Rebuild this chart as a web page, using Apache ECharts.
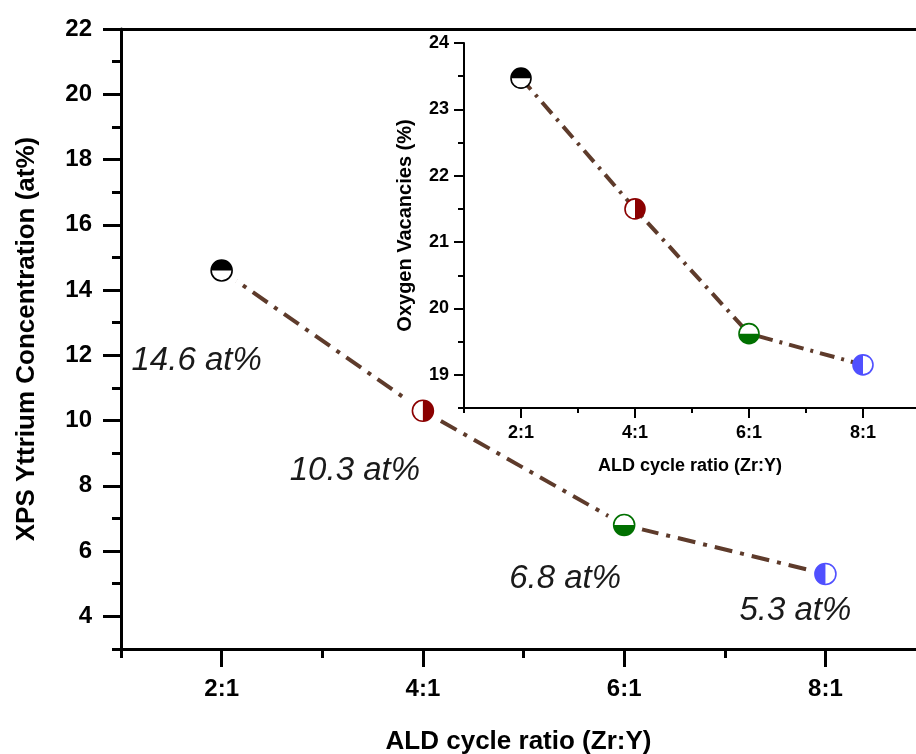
<!DOCTYPE html>
<html>
<head>
<meta charset="utf-8">
<title>XPS Yttrium Concentration vs ALD cycle ratio</title>
<script src="https://cdn.jsdelivr.net/npm/echarts@6/dist/echarts.min.js"></script>
<style>
  html, body { margin: 0; padding: 0; background: #ffffff; }
  #chart { width: 916px; height: 754px; }
</style>
</head>
<body>
<div id="chart"></div>
<script>
// ---- data ----
const ratios = ['2:1', '4:1', '6:1', '8:1'];
const yttrium = [14.6, 10.3, 6.8, 5.3];          // at%
const vacancies = [23.47, 21.5, 19.62, 19.15];   // %

// ---- tick values ----
const xMajor = [2, 4, 6, 8];
const xMinor = [1, 3, 5, 7];
const mainYMajor = [4, 6, 8, 10, 12, 14, 16, 18, 20, 22];
const mainYMinor = [3, 5, 7, 9, 11, 13, 15, 17, 19, 21];
const insetYMajor = [19, 20, 21, 22, 23, 24];
const insetYMinor = [18.5, 19.5, 20.5, 21.5, 22.5, 23.5];

// ---- styling ----
const FONT = "'Liberation Sans', Arial, Helvetica, sans-serif";
const markerColors = ['#000000', '#8b0000', '#007000', '#5050ff'];
const filledHalf = ['top', 'right', 'bottom', 'left'];
const labelOffsets = [[-25, 90], [-68, 60], [-59, 54], [-30, 37]];
const lineColor = '#5e3b2b';

const ratioX = ratios.map(r => Number(r.split(':')[0]));
const ratioLabel = v => { const i = ratioX.indexOf(v); return i >= 0 ? ratios[i] : ''; };

const halfAngles = {
  top: [Math.PI, 2 * Math.PI],
  bottom: [0, Math.PI],
  right: [-Math.PI / 2, Math.PI / 2],
  left: [Math.PI / 2, 3 * Math.PI / 2]
};

// Half-filled circle marker; the main panel also gets a white halo that
// leaves a small gap between the dash-dot line and each marker.
function halfMarker(radius, halo, withLabels) {
  return function (params, api) {
    const i = params.dataIndex;
    const p = api.coord([api.value(0), api.value(1)]);
    const a = halfAngles[filledHalf[i]];
    const c = markerColors[i];
    const children = [];
    if (halo > 0) {
      children.push({ type: 'circle', shape: { cx: p[0], cy: p[1], r: radius + halo }, style: { fill: '#ffffff' } });
    }
    children.push(
      { type: 'circle', shape: { cx: p[0], cy: p[1], r: radius }, style: { fill: '#ffffff' } },
      { type: 'sector', shape: { cx: p[0], cy: p[1], r0: 0, r: radius, startAngle: a[0], endAngle: a[1], clockwise: true }, style: { fill: c } },
      { type: 'circle', shape: { cx: p[0], cy: p[1], r: radius }, style: { fill: 'none', stroke: c, lineWidth: 1.6 } }
    );
    if (withLabels) {
      children.push({
        type: 'text',
        x: p[0] + labelOffsets[i][0],
        y: p[1] + labelOffsets[i][1],
        style: {
          text: api.value(1) + ' at%',
          font: 'italic 33px ' + FONT,
          fill: '#1a1a1a',
          align: 'center',
          verticalAlign: 'middle'
        }
      });
    }
    return { type: 'group', children: children };
  };
}

function majorAxis(extra) {
  return Object.assign({
    type: 'value',
    splitLine: { show: false },
    axisLine: { show: true, onZero: false, lineStyle: { color: '#000', width: 3 } },
    axisTick: { show: true, inside: false, length: 18, lineStyle: { color: '#000', width: 3 } },
    axisLabel: { color: '#000', fontFamily: FONT, fontWeight: 'bold', fontSize: 24 },
    nameTextStyle: { color: '#000', fontFamily: FONT, fontWeight: 'bold', fontSize: 26 },
    nameLocation: 'middle'
  }, extra);
}

function minorAxis(extra) {
  return Object.assign({
    type: 'value',
    splitLine: { show: false },
    axisLine: { show: false, onZero: false },
    axisTick: { show: true, inside: false, length: 9, lineStyle: { color: '#000', width: 3 } },
    axisLabel: { show: false }
  }, extra);
}

const chart = echarts.init(document.getElementById('chart'), null, { renderer: 'canvas' });

// main panel: x from 1 to ~8.9 across 795 px; inset panel: x from 1 to ~8.93 across 452 px
const mainXMax = 8.9;
const insetXMax = 8.93;

const option = {
  backgroundColor: '#ffffff',
  animation: false,
  grid: [
    { left: 121, top: 29, width: 795, height: 620, containLabel: false, outerBoundsMode: 'none' },
    { left: 464, top: 43, width: 452, height: 365, containLabel: false, outerBoundsMode: 'none' }
  ],
  xAxis: [
    majorAxis({
      gridIndex: 0, position: 'bottom', min: 1, max: mainXMax,
      axisTick: { show: true, customValues: xMajor, length: 18, lineStyle: { color: '#000', width: 3 } },
      axisLabel: { customValues: xMajor, formatter: ratioLabel, margin: 28, color: '#000', fontFamily: FONT, fontWeight: 'bold', fontSize: 24 },
      name: 'ALD cycle ratio (Zr:Y)', nameGap: 80
    }),
    minorAxis({
      gridIndex: 0, position: 'bottom', min: 1, max: mainXMax,
      axisTick: { show: true, customValues: xMinor, length: 9, lineStyle: { color: '#000', width: 3 } }
    }),
    {
      type: 'value', gridIndex: 0, position: 'top', min: 1, max: mainXMax,
      splitLine: { show: false },
      axisLine: { show: true, onZero: false, lineStyle: { color: '#000', width: 3 } },
      axisTick: { show: false }, axisLabel: { show: false }
    },
    majorAxis({
      gridIndex: 1, position: 'bottom', min: 1, max: insetXMax,
      axisLine: { show: true, onZero: false, lineStyle: { color: '#000', width: 2 } },
      axisTick: { show: true, customValues: xMajor, length: 10, lineStyle: { color: '#000', width: 2 } },
      axisLabel: { customValues: xMajor, formatter: ratioLabel, margin: 16, color: '#000', fontFamily: FONT, fontWeight: 'bold', fontSize: 18 },
      name: 'ALD cycle ratio (Zr:Y)', nameGap: 49,
      nameTextStyle: { color: '#000', fontFamily: FONT, fontWeight: 'bold', fontSize: 18 }
    }),
    minorAxis({
      gridIndex: 1, position: 'bottom', min: 1, max: insetXMax,
      axisTick: { show: true, customValues: xMinor, length: 5, lineStyle: { color: '#000', width: 2 } }
    })
  ],
  yAxis: [
    majorAxis({
      gridIndex: 0, position: 'left', min: 3, max: 22,
      axisTick: { show: true, customValues: mainYMajor, length: 18, lineStyle: { color: '#000', width: 3 } },
      axisLabel: { customValues: mainYMajor, margin: 29, color: '#000', fontFamily: FONT, fontWeight: 'bold', fontSize: 24 },
      name: 'XPS Yttrium Concentration (at%)', nameGap: 81
    }),
    minorAxis({
      gridIndex: 0, position: 'left', min: 3, max: 22,
      axisTick: { show: true, customValues: mainYMinor, length: 9, lineStyle: { color: '#000', width: 3 } }
    }),
    majorAxis({
      gridIndex: 1, position: 'left', min: 18.5, max: 24,
      axisLine: { show: true, onZero: false, lineStyle: { color: '#000', width: 2 } },
      axisTick: { show: true, customValues: insetYMajor, length: 10, lineStyle: { color: '#000', width: 2 } },
      axisLabel: { customValues: insetYMajor, margin: 15, color: '#000', fontFamily: FONT, fontWeight: 'bold', fontSize: 18 },
      name: 'Oxygen Vacancies (%)', nameGap: 49,
      nameTextStyle: { color: '#000', fontFamily: FONT, fontWeight: 'bold', fontSize: 20 }
    }),
    minorAxis({
      gridIndex: 1, position: 'left', min: 18.5, max: 24,
      axisTick: { show: true, customValues: insetYMinor, length: 6, lineStyle: { color: '#000', width: 2 } }
    })
  ],
  series: [
    {
      type: 'line', xAxisIndex: 0, yAxisIndex: 0, z: 2,
      data: ratioX.map((x, i) => [x, yttrium[i]]),
      symbol: 'none', silent: true,
      lineStyle: { color: lineColor, width: 4, type: [18, 8, 4, 8] }
    },
    {
      type: 'custom', xAxisIndex: 0, yAxisIndex: 0, z: 5, clip: false,
      data: ratioX.map((x, i) => [x, yttrium[i]]),
      renderItem: halfMarker(10.5, 8, true)
    },
    {
      type: 'line', xAxisIndex: 3, yAxisIndex: 2, z: 2,
      data: ratioX.map((x, i) => [x, vacancies[i]]),
      symbol: 'none', silent: true,
      lineStyle: { color: lineColor, width: 4, type: [15, 7, 3, 7] }
    },
    {
      type: 'custom', xAxisIndex: 3, yAxisIndex: 2, z: 5, clip: false,
      data: ratioX.map((x, i) => [x, vacancies[i]]),
      renderItem: halfMarker(10, 0, false)
    }
  ]
};

chart.setOption(option);
</script>
</body>
</html>
